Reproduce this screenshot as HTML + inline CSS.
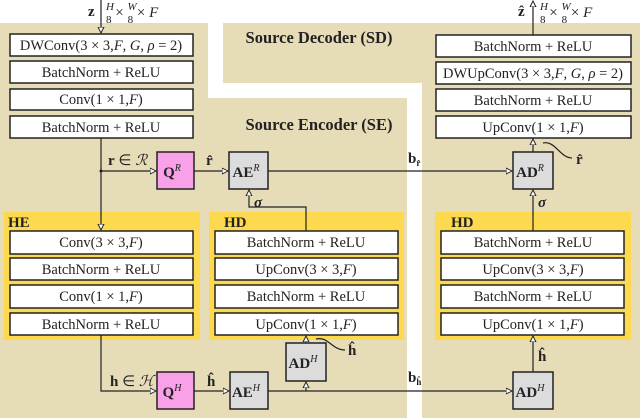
<!DOCTYPE html>
<html><head><meta charset="utf-8"><style>
html,body{margin:0;padding:0;background:#fff}
svg{display:block}
text{font-family:"Liberation Serif",serif;fill:#222}
.b{fill:#fff;stroke:#222;stroke-width:1.5}
.g{fill:#dcdcdc;stroke:#222;stroke-width:1.5}
.p{fill:#f8a0e8;stroke:#222;stroke-width:1.5}
.l{stroke:#222;stroke-width:1.2;fill:none}
.t{font-size:14.5px;text-anchor:middle}
.s{font-size:15px;text-anchor:middle}
.bb{font-weight:bold}
</style></head><body>
<svg width="640" height="418" viewBox="0 0 640 418" xmlns="http://www.w3.org/2000/svg">
<defs><marker id="a" markerWidth="6" markerHeight="6" refX="5" refY="3" orient="auto"><path d="M0,0.5 L5,3 L0,5.5 z" fill="#fff" stroke="#222" stroke-width="0.8"/></marker></defs>
<path d="M0,23 H208 V98 H407 V418 H0 Z" fill="#e7dcb8"/>
<path d="M223,23 H640 V418 H422 V83 H223 Z" fill="#e7dcb8"/>
<rect x="4" y="212" width="196" height="128" fill="#fdd94f"/>
<rect x="209" y="212" width="195" height="128" fill="#fdd94f"/>
<rect x="435" y="212" width="196" height="128" fill="#fdd94f"/>
<text x="319" y="43" font-size="16.5" text-anchor="middle" class="bb">Source Decoder (SD)</text>
<text x="319" y="130" font-size="16.5" text-anchor="middle" class="bb">Source Encoder (SE)</text>
<text x="8" y="227" font-size="15" class="bb">HE</text>
<text x="224" y="227" font-size="15" class="bb">HD</text>
<text x="451" y="227" font-size="15" class="bb">HD</text>
<rect class="b" x="10" y="34" width="183" height="22"/><text class="t" x="101" y="50">DWConv(3 × 3,<tspan font-style="italic">F</tspan>, <tspan font-style="italic">G</tspan>, <tspan font-style="italic">ρ</tspan> = 2)</text>
<rect class="b" x="10" y="61" width="183" height="22"/><text class="t" x="101" y="77">BatchNorm + ReLU</text>
<rect class="b" x="10" y="89" width="183" height="21"/><text class="t" x="101" y="104">Conv(1 × 1,<tspan font-style="italic">F</tspan>)</text>
<rect class="b" x="10" y="116" width="183" height="22"/><text class="t" x="101" y="132">BatchNorm + ReLU</text>
<rect class="b" x="436" y="35" width="195" height="22"/><text class="t" x="533" y="51">BatchNorm + ReLU</text>
<rect class="b" x="436" y="62" width="195" height="22"/><text class="t" x="533" y="78">DWUpConv(3 × 3,<tspan font-style="italic">F</tspan>, <tspan font-style="italic">G</tspan>, <tspan font-style="italic">ρ</tspan> = 2)</text>
<rect class="b" x="436" y="89" width="195" height="22"/><text class="t" x="533" y="105">BatchNorm + ReLU</text>
<rect class="b" x="436" y="116" width="195" height="22"/><text class="t" x="533" y="132">UpConv(1 × 1,<tspan font-style="italic">F</tspan>)</text>
<g>
<rect class="b" x="10" y="231" width="183" height="23"/><text class="t" x="101" y="247">Conv(3 × 3,<tspan font-style="italic">F</tspan>)</text>
<rect class="b" x="10" y="258" width="183" height="22"/><text class="t" x="101" y="274">BatchNorm + ReLU</text>
<rect class="b" x="10" y="285" width="183" height="23"/><text class="t" x="101" y="301">Conv(1 × 1,<tspan font-style="italic">F</tspan>)</text>
<rect class="b" x="10" y="313" width="183" height="22"/><text class="t" x="101" y="329">BatchNorm + ReLU</text>
<rect class="b" x="215" y="231" width="183" height="23"/><text class="t" x="306" y="247">BatchNorm + ReLU</text>
<rect class="b" x="215" y="258" width="183" height="22"/><text class="t" x="306" y="274">UpConv(3 × 3,<tspan font-style="italic">F</tspan>)</text>
<rect class="b" x="215" y="285" width="183" height="23"/><text class="t" x="306" y="301">BatchNorm + ReLU</text>
<rect class="b" x="215" y="313" width="183" height="22"/><text class="t" x="306" y="329">UpConv(1 × 1,<tspan font-style="italic">F</tspan>)</text>
<rect class="b" x="441" y="231" width="183" height="23"/><text class="t" x="533" y="247">BatchNorm + ReLU</text>
<rect class="b" x="441" y="258" width="183" height="22"/><text class="t" x="533" y="274">UpConv(3 × 3,<tspan font-style="italic">F</tspan>)</text>
<rect class="b" x="441" y="285" width="183" height="23"/><text class="t" x="533" y="301">BatchNorm + ReLU</text>
<rect class="b" x="441" y="313" width="183" height="22"/><text class="t" x="533" y="329">UpConv(1 × 1,<tspan font-style="italic">F</tspan>)</text>
</g>
<rect class="p" x="157" y="152" width="37" height="37"/><text class="s bb" x="172" y="177">Q<tspan font-size="10" dy="-6" font-style="italic" font-weight="normal">R</tspan></text>
<rect class="g" x="229" y="152" width="39" height="37"/><text class="s bb" x="246" y="177">AE<tspan font-size="10" dy="-6" font-style="italic" font-weight="normal">R</tspan></text>
<rect class="g" x="513" y="152" width="40" height="37"/><text class="s bb" x="530" y="177">AD<tspan font-size="10" dy="-6" font-style="italic" font-weight="normal">R</tspan></text>
<rect class="p" x="157" y="372" width="37" height="37"/><text class="s bb" x="172" y="397">Q<tspan font-size="10" dy="-6" font-style="italic" font-weight="normal">H</tspan></text>
<rect class="g" x="230" y="372" width="38" height="37"/><text class="s bb" x="246" y="397">AE<tspan font-size="10" dy="-6" font-style="italic" font-weight="normal">H</tspan></text>
<rect class="g" x="286" y="343" width="40" height="38"/><text class="s bb" x="303" y="368">AD<tspan font-size="10" dy="-6" font-style="italic" font-weight="normal">H</tspan></text>
<rect class="g" x="513" y="372" width="40" height="37"/><text class="s bb" x="530" y="397">AD<tspan font-size="10" dy="-6" font-style="italic" font-weight="normal">H</tspan></text>
<path class="l" d="M101,0 V33" marker-end="url(#a)"/>
<path class="l" d="M101,138 V230" marker-end="url(#a)"/>
<circle cx="101" cy="171" r="1.5" fill="#222"/>
<path class="l" d="M101,171 H156" marker-end="url(#a)"/>
<path class="l" d="M194,171 H228" marker-end="url(#a)"/>
<path class="l" d="M268,171 H512" marker-end="url(#a)"/>
<path class="l" d="M306,231 V207 H249 V190" marker-end="url(#a)"/>
<path class="l" d="M533,231 V190" marker-end="url(#a)"/>
<path class="l" d="M533,152 V139" marker-end="url(#a)"/>
<path class="l" d="M533,35 V1" marker-end="url(#a)"/>
<path class="l" d="M543,143 C555,140 560,158 572,158"/>
<path class="l" d="M101,335 V391 H156" marker-end="url(#a)"/>
<path class="l" d="M194,391 H229" marker-end="url(#a)"/>
<path class="l" d="M268,391 H512" marker-end="url(#a)"/>
<path class="l" d="M306,391 V382" marker-end="url(#a)"/>
<path class="l" d="M306,343 V336" marker-end="url(#a)"/>
<path class="l" d="M533,372 V336" marker-end="url(#a)"/>
<path class="l" d="M316,339 C328,336 332,350 345,350"/>
<text x="88" y="16" font-size="15" class="bb">z</text>
<text x="106" y="17" font-size="15"><tspan font-style="italic" font-size="11" dy="-7">H</tspan><tspan font-size="11" dx="-8" dy="13">8</tspan><tspan dy="-6"> × </tspan><tspan font-style="italic" font-size="11" dy="-7">W</tspan><tspan font-size="11" dx="-9" dy="13">8</tspan><tspan dy="-6"> × </tspan><tspan font-style="italic">F</tspan></text>
<text x="518" y="16" font-size="15" class="bb">ẑ</text>
<text x="540" y="17" font-size="15"><tspan font-style="italic" font-size="11" dy="-7">H</tspan><tspan font-size="11" dx="-8" dy="13">8</tspan><tspan dy="-6"> × </tspan><tspan font-style="italic" font-size="11" dy="-7">W</tspan><tspan font-size="11" dx="-9" dy="13">8</tspan><tspan dy="-6"> × </tspan><tspan font-style="italic">F</tspan></text>
<text x="108" y="165" font-size="15"><tspan font-weight="bold">r</tspan> ∈ <tspan font-style="italic">ℛ</tspan></text>
<text x="206" y="165" font-size="15" class="bb">r̂</text>
<text x="408" y="163" font-size="15" class="bb">b<tspan font-size="9" dy="3">r̂</tspan></text>
<text x="576" y="164" font-size="15" class="bb">r̂</text>
<text x="254" y="207" font-size="15" font-weight="bold" font-style="italic">σ</text>
<text x="538" y="207" font-size="15" font-weight="bold" font-style="italic">σ</text>
<text x="110" y="386" font-size="15"><tspan font-weight="bold">h</tspan> ∈ <tspan font-style="italic">ℋ</tspan></text>
<text x="207" y="386" font-size="15" class="bb">ĥ</text>
<text x="408" y="382" font-size="15" class="bb">b<tspan font-size="9" dy="3">ĥ</tspan></text>
<text x="348" y="355" font-size="15" class="bb">ĥ</text>
<text x="538" y="361" font-size="15" class="bb">ĥ</text>
</svg>
</body></html>
